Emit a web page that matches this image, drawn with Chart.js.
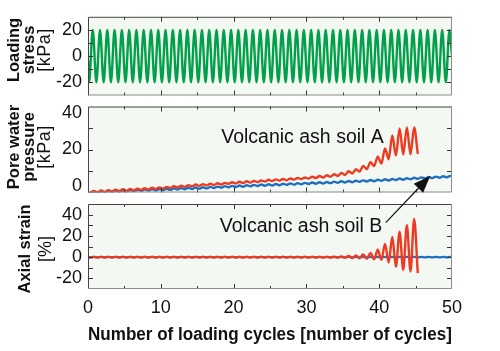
<!DOCTYPE html>
<html><head><meta charset="utf-8">
<script src="https://cdn.jsdelivr.net/npm/chart.js@4"></script>
<style>
html,body{margin:0;padding:0;background:#fff;overflow:hidden;}
.wrap{position:absolute;left:0;top:0;width:500px;height:351px;}
</style></head><body>
<div class="wrap" style="z-index:1"><canvas id="c1"></canvas></div>
<div class="wrap" style="z-index:2"><canvas id="c2"></canvas></div>
<div class="wrap" style="z-index:3"><canvas id="c3"></canvas></div>
<script>
// ---------- DATA ----------
const xTickMarks = [0,5,10,15,20,25,30,35,40,45,50];
const xTickLabels = [0,10,20,30,40,50];

// Loading stress [kPa]: one trough and one peak per loading cycle
const stressStart = -3;
const stressTroughs = [-20,-20,-20,-20,-20,-20,-20,-20,-20,-20,
                       -20,-20,-20,-20,-20,-20,-20,-20,-20,-20,
                       -20,-20,-20,-20,-20,-20,-20,-20,-20,-20,
                       -20,-20,-20,-20,-20,-20,-20,-20,-20,-20,
                       -20,-20,-20,-20,-20,-20,-20,-20,-20,-20];
const stressPeaks   = [20,20,20,20,20,20,20,20,20,20,
                       20,20,20,20,20,20,20,20,20,20,
                       20,20,20,20,20,20,20,20,20,20,
                       20,20,20,20,20,20,20,20,20,20,
                       20,20,20,20,20,20,20,20,20,20];
const stressEnd = 0;

// Pore water pressure [kPa], soil A (red): per-cycle level and half-swing
const poreAStart = 0.4;
const poreAMean = [0.3,0.5,0.7,0.9,1.1,1.2,1.4,1.6,1.8,2.0,
                   2.2,2.5,2.8,3.0,3.3,3.5,3.7,3.9,4.1,4.4,
                   4.6,4.8,5.0,5.2,5.5,5.7,5.9,6.1,6.4,6.6,
                   6.9,7.2,7.5,7.9,8.4,9.0,9.8,11.0,12.5,14.5,
                   17.0,21.0,23.5,24.0,24.0];
const poreAHalf = [0.4,0.4,0.4,0.4,0.4,0.4,0.4,0.4,0.4,0.4,
                   0.4,0.4,0.4,0.4,0.4,0.4,0.4,0.4,0.4,0.4,
                   0.4,0.4,0.4,0.4,0.4,0.4,0.4,0.4,0.4,0.4,
                   0.45,0.5,0.55,0.6,0.7,0.85,1.0,1.3,1.6,2.2,
                   3.5,5.5,6.3,6.3,6.2];
const poreAEnd = 18;

// Pore water pressure [kPa], soil B (blue)
const poreBStart = 0.0;
const poreBMean = [0.1,0.25,0.4,0.55,0.7,0.8,0.95,1.1,1.2,1.3,
                   1.4,1.55,1.7,1.85,2.0,2.1,2.25,2.4,2.6,2.75,
                   2.9,3.05,3.2,3.35,3.5,3.6,3.75,3.9,4.0,4.15,
                   4.3,4.45,4.55,4.7,4.85,5.0,5.15,5.3,5.45,5.6,
                   5.8,5.95,6.15,6.3,6.5,6.7,6.85,7.05,7.2,7.4];
const poreBHalf = [0.35,0.35,0.35,0.35,0.35,0.35,0.35,0.35,0.35,0.35,
                   0.35,0.35,0.35,0.35,0.35,0.35,0.35,0.35,0.35,0.35,
                   0.35,0.35,0.35,0.35,0.35,0.35,0.35,0.35,0.35,0.35,
                   0.35,0.35,0.35,0.35,0.35,0.35,0.35,0.35,0.35,0.35,
                   0.35,0.35,0.35,0.35,0.35,0.35,0.35,0.35,0.35,0.35];
const poreBEnd = 7.6;

// Axial strain [%], soil A (red): per-cycle trough and peak
const strainAStart = 0;
const strainAMin = [-0.2,-0.2,-0.2,-0.2,-0.2,-0.2,-0.2,-0.2,-0.2,-0.2,
                    -0.2,-0.2,-0.2,-0.2,-0.2,-0.2,-0.2,-0.2,-0.2,-0.2,
                    -0.2,-0.2,-0.2,-0.2,-0.2,-0.2,-0.2,-0.2,-0.2,-0.2,
                    -0.2,-0.2,-0.2,-0.3,-0.4,-0.5,-0.8,-1.0,-1.5,-2.0,
                    -2.5,-5.0,-9.0,-12.0,-13.5];
const strainAMax = [0.2,0.2,0.2,0.2,0.2,0.2,0.2,0.2,0.2,0.2,
                    0.2,0.2,0.2,0.2,0.2,0.2,0.2,0.2,0.2,0.2,
                    0.2,0.2,0.2,0.2,0.2,0.2,0.2,0.2,0.2,0.2,
                    0.2,0.2,0.2,0.3,0.6,1.0,1.5,2.5,4.0,7.0,
                    12.5,19.0,24.0,30.0,36.0];
const strainAEnd = -15;

// Axial strain [%], soil B (blue)
const strainBStart = 0;
const strainBMin = [-0.2,-0.2,-0.2,-0.2,-0.2,-0.2,-0.2,-0.2,-0.2,-0.2,
                    -0.2,-0.2,-0.2,-0.2,-0.2,-0.2,-0.2,-0.2,-0.2,-0.2,
                    -0.2,-0.2,-0.2,-0.2,-0.2,-0.2,-0.2,-0.2,-0.2,-0.2,
                    -0.2,-0.2,-0.2,-0.2,-0.2,-0.2,-0.2,-0.2,-0.2,-0.2,
                    -0.2,-0.2,-0.2,-0.2,-0.2,-0.2,-0.2,-0.2,-0.2,-0.2];
const strainBMax = [0.2,0.2,0.2,0.2,0.2,0.2,0.2,0.2,0.2,0.2,
                    0.2,0.2,0.2,0.2,0.2,0.2,0.2,0.2,0.2,0.2,
                    0.2,0.2,0.2,0.2,0.2,0.2,0.2,0.2,0.2,0.2,
                    0.2,0.2,0.2,0.2,0.2,0.2,0.2,0.2,0.2,0.2,
                    0.2,0.2,0.2,0.2,0.2,0.2,0.2,0.2,0.2,0.2];
const strainBEnd = 0;

// ---------- build point lists (cycle index -> x) ----------
function wave(startY, lows, highs, lowPhase, highPhase, endX, endY) {
  const pts = [{x: 0, y: startY}];
  const n = Math.max(lows.length, highs.length);
  for (let i = 0; i < n; i++) {
    if (i < lows.length) pts.push({x: i + lowPhase, y: lows[i]});
    if (i < highs.length) pts.push({x: i + highPhase, y: highs[i]});
  }
  pts.push({x: endX, y: endY});
  return pts;
}
const sub = (a, b) => a.map((v, i) => v - b[i]);
const add = (a, b) => a.map((v, i) => v + b[i]);

const stressPts  = wave(stressStart, stressTroughs, stressPeaks, 0.15, 0.65, 50, stressEnd);
const poreAPts   = wave(poreAStart, sub(poreAMean, poreAHalf), add(poreAMean, poreAHalf), 0.3, 0.8, 45.3, poreAEnd);
const poreBPts   = wave(poreBStart, sub(poreBMean, poreBHalf), add(poreBMean, poreBHalf), 0.3, 0.8, 50, poreBEnd);
const strainAPts = wave(strainAStart, strainAMin, strainAMax, 0.3, 0.8, 45.3, strainAEnd);
const strainBPts = wave(strainBStart, strainBMin, strainBMax, 0.3, 0.8, 50, strainBEnd);

// ---------- styling ----------
const FAM = '"Liberation Sans", Arial, Helvetica, sans-serif';
const GREEN = '#00a148', RED = '#ef3a22', BLUE = '#1d6fc1';
const PLOT_BG = '#f3f8f3';

const framePlugin = {
  id: 'frame',
  beforeDatasetsDraw(chart) {
    const {left, top, right, bottom} = chart.chartArea;
    const ctx = chart.ctx;
    ctx.save(); ctx.fillStyle = PLOT_BG;
    ctx.fillRect(left, top, right - left, bottom - top);
    ctx.restore();
  },
  afterDatasetsDraw(chart) {
    const {left, top, right, bottom} = chart.chartArea;
    const ctx = chart.ctx, xs = chart.scales.x, ys = chart.scales.y;
    ctx.save();
    ctx.lineWidth = 1;
    ctx.strokeStyle = '#333';
    ctx.beginPath();
    for (const v of xTickMarks) {
      if (v === xs.min || v === xs.max) continue;
      const px = Math.round(xs.getPixelForValue(v)) + 0.5;
      const len = v % 10 === 0 ? 5 : 3;
      ctx.moveTo(px, top); ctx.lineTo(px, top + len);
      ctx.moveTo(px, bottom); ctx.lineTo(px, bottom - len);
    }
    for (const t of ys.ticks) {
      if (t.value === ys.min || t.value === ys.max) continue;
      const py = Math.round(ys.getPixelForValue(t.value)) + 0.5;
      const len = 5;
      ctx.moveTo(left, py); ctx.lineTo(left + len, py);
      ctx.moveTo(right, py); ctx.lineTo(right - len, py);
    }
    ctx.stroke();
    ctx.strokeStyle = '#444';
    ctx.beginPath();
    ctx.moveTo(left + 0.5, bottom); ctx.lineTo(left + 0.5, top + 0.5); ctx.lineTo(right, top + 0.5);
    ctx.stroke();
    ctx.strokeStyle = '#8c8c8c';
    ctx.beginPath();
    ctx.moveTo(right - 0.5, top); ctx.lineTo(right - 0.5, bottom - 0.5); ctx.lineTo(left, bottom - 0.5);
    ctx.stroke();
    ctx.restore();
  }
};

const yTitlePlugin = {
  id: 'ytitle',
  afterDraw(chart, args, o) {
    const ctx = chart.ctx;
    ctx.save();
    ctx.fillStyle = '#111';
    ctx.textAlign = 'center';
    ctx.textBaseline = 'middle';
    for (const l of o.lines) {
      ctx.save();
      ctx.translate(l.x, o.cy);
      ctx.rotate(-Math.PI / 2);
      ctx.font = (l.bold ? 'bold ' : '') + l.size + 'px ' + FAM;
      ctx.letterSpacing = (l.spacing || 0) + 'px';
      ctx.fillText(l.text, 0, 0);
      ctx.restore();
    }
    ctx.restore();
  }
};

function makeChart(id, datasets, y, pad, showX, title, extraPlugin) {
  return new Chart(document.getElementById(id), {
    type: 'line',
    data: { datasets: datasets.map(d => ({
      data: d.data, borderColor: d.color, borderWidth: 2.4, pointRadius: 0,
      fill: false, cubicInterpolationMode: 'monotone', parsing: true
    })) },
    options: {
      responsive: true, maintainAspectRatio: false, animation: false,
      layout: { padding: pad },
      plugins: { legend: {display: false}, tooltip: {enabled: false}, ytitle: title },
      scales: {
        x: {
          type: 'linear', min: 0, max: 50, offset: false,
          grid: {display: false, drawTicks: false}, border: {display: false},
          ticks: {display: showX, stepSize: 10, padding: 8, autoSkip: false, maxRotation: 0,
                  color: '#111', font: {family: FAM, size: 18},
                  callback: v => xTickLabels.includes(v) ? String(v) : ''},
          title: {display: showX, text: 'Number of loading cycles [number of cycles]',
                  color: '#111', font: {family: FAM, size: 17.5, weight: 'bold'},
                  padding: {top: 0, bottom: 0}},
          afterFit: s => { s.height = showX ? 57 : 0; }
        },
        y: {
          type: 'linear', min: y.min, max: y.max,
          grid: {display: false, drawTicks: false}, border: {display: false},
          ticks: {stepSize: 10, autoSkip: false, padding: 6, color: '#111',
                  font: {family: FAM, size: 18, lineHeight: y.lh || 1.2},
                  callback: y.cb},
          afterFit: s => { s.width = 88; }
        }
      }
    },
    plugins: [framePlugin, yTitlePlugin].concat(extraPlugin ? [extraPlugin] : [])
  });
}

// Panel 1: loading stress
const chart1 = makeChart('c1',
  [{data: stressPts, color: GREEN}],
  {min: -30, max: 30, cb: v => (v % 20 === 0 ? String(v) : '')},
  {top: 10.5, right: 48, bottom: 255.5, left: 0}, false,
  {cy: 50, lines: [
    {text: 'Loading', bold: true, size: 16.5, x: 14},
    {text: 'stress', bold: true, size: 16.5, x: 29.5},
    {text: '[kPa]', bold: false, size: 18, x: 45, spacing: 0.5}]});

// Panel 2: pore water pressure
const annoA = {x: 18.3, y: 23.1, text: 'Volcanic ash soil A'};
const chart2 = makeChart('c2',
  [{data: poreAPts, color: RED}, {data: poreBPts, color: BLUE}],
  {min: 0, max: 40, lh: 0.7, cb: v => (v === 0 ? ['0', ''] : v === 40 ? ['', '40'] : v === 20 ? '20' : '')},
  {top: 106.5, right: 48, bottom: 158.5, left: 0}, false,
  {cy: 147, lines: [
    {text: 'Pore water', bold: true, size: 16.5, x: 14},
    {text: 'pressure', bold: true, size: 16.5, x: 29.5},
    {text: '[kPa]', bold: false, size: 18, x: 45, spacing: 0.5}]},
  {
    id: 'annoA',
    afterDraw(chart) {
      const ctx = chart.ctx;
      ctx.save();
      ctx.fillStyle = '#111';
      ctx.font = '19.5px ' + FAM;
      ctx.textAlign = 'left'; ctx.textBaseline = 'alphabetic';
      ctx.fillText(annoA.text, chart.scales.x.getPixelForValue(annoA.x), chart.scales.y.getPixelForValue(annoA.y));
      ctx.restore();
    }
  });

// Panel 3: axial strain
const annoB = {x: 18.1, y: 23.7, text: 'Volcanic ash soil B'};
const arrowTail = {x: 40.9, y: 32.5};   // in axial-strain panel
const arrowTip  = {x: 47.0, y: 7.7};    // in pore-pressure panel
const chart3 = makeChart('c3',
  [{data: strainAPts, color: RED}, {data: strainBPts, color: BLUE}],
  {min: -30, max: 50, cb: v => (v % 20 === 0 ? String(v) : '')},
  {top: 204, right: 48, bottom: 5, left: 0}, true,
  {cy: 249, lines: [
    {text: 'Axial strain', bold: true, size: 16.5, x: 25},
    {text: '[%]', bold: false, size: 18, x: 46}]},
  {
    id: 'annoB',
    afterDraw(chart) {
      const ctx = chart.ctx;
      ctx.save();
      ctx.fillStyle = '#111';
      ctx.font = '19.5px ' + FAM;
      ctx.textAlign = 'left'; ctx.textBaseline = 'alphabetic';
      ctx.fillText(annoB.text, chart.scales.x.getPixelForValue(annoB.x), chart.scales.y.getPixelForValue(annoB.y));
      const x0 = chart.scales.x.getPixelForValue(arrowTail.x), y0 = chart.scales.y.getPixelForValue(arrowTail.y);
      const x1 = chart2.scales.x.getPixelForValue(arrowTip.x), y1 = chart2.scales.y.getPixelForValue(arrowTip.y);
      const ang = Math.atan2(y1 - y0, x1 - x0);
      const L = 17, W = 6.5;
      const bx = x1 - L * Math.cos(ang), by = y1 - L * Math.sin(ang);
      ctx.strokeStyle = '#111'; ctx.lineWidth = 1.2;
      ctx.beginPath(); ctx.moveTo(x0, y0); ctx.lineTo(bx, by); ctx.stroke();
      ctx.beginPath();
      ctx.moveTo(x1, y1);
      ctx.lineTo(bx + W * Math.sin(ang), by - W * Math.cos(ang));
      ctx.lineTo(bx - W * Math.sin(ang), by + W * Math.cos(ang));
      ctx.closePath(); ctx.fill();
      ctx.restore();
    }
  });
</script>
</body></html>
